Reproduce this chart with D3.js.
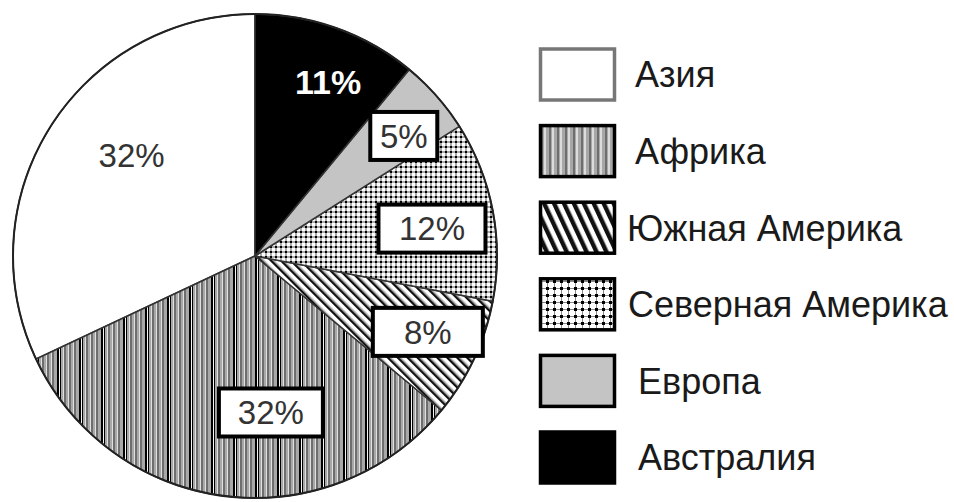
<!DOCTYPE html>
<html>
<head>
<meta charset="utf-8">
<script src="https://cdn.jsdelivr.net/npm/d3@7"></script>
<style>
  html, body { margin: 0; padding: 0; background: #fff; }
  svg { display: block; }
</style>
</head>
<body>
<svg id="chart" width="954" height="502"></svg>
<script>
// Continents, in legend order
const categories = ["Азия", "Африка", "Южная Америка", "Северная Америка", "Европа", "Австралия"];
// Share of each continent, percent
const values = [32, 32, 8, 12, 5, 11];
// Text written on each slice
const valueLabels = ["32%", "32%", "8%", "12%", "5%", "11%"];
// Fill style key for each continent
const fillKeys = ["white", "vstripes", "diag", "grid", "gray", "black"];

// Label placement: fraction of radius, angle nudge (deg), box width (0 = no box), style
const labelLayout = [
  { rf: 0.66, nudge: 7,   boxW: 0,   style: "plain" },
  { rf: 0.65, nudge: -13, boxW: 104, style: "box" },
  { rf: 0.78, nudge: -1.5,boxW: 110, style: "box" },
  { rf: 0.74, nudge: 2,   boxW: 107, style: "box" },
  { rf: 0.79, nudge: 2.5, boxW: 67,  style: "box" },
  { rf: 0.78, nudge: 3,   boxW: 0,   style: "bold" }
];
// Legend text x positions
const legendTextX = [635, 635, 627, 628, 638, 638];

const svg = d3.select("#chart");
const defs = svg.append("defs");

// ---- fill patterns ----
function stripePattern(id, w, bg, bands) {
  const p = defs.append("pattern").attr("id", id).attr("patternUnits", "userSpaceOnUse")
    .attr("width", w).attr("height", 10);
  p.append("rect").attr("width", w).attr("height", 10).attr("fill", bg);
  bands.forEach(([x, bw, c]) => p.append("rect").attr("x", x).attr("width", bw).attr("height", 10).attr("fill", c));
}
// vertical stripes inside the pie: gray ground, light and dark bands, periodic black rules
stripePattern("pat-vstripes", 22, "#a8a8a8", [
  [0, 2, "#000"], [2, 1, "#f4f4f4"], [3, 1, "#000"],
  [6, 1, "#e0e0e0"], [7, 2, "#6e6e6e"],
  [11, 1, "#e0e0e0"], [12, 2, "#6e6e6e"],
  [16, 1, "#e0e0e0"], [17, 2, "#6e6e6e"]
]);
// coarser stripes for the legend swatch
stripePattern("pat-vstripes-leg", 8, "#a8a8a8", [[0, 2, "#dcdcdc"], [5, 2, "#6e6e6e"]]);

function diag(id, period, lw, rot) {
  const p = defs.append("pattern").attr("id", id).attr("patternUnits", "userSpaceOnUse")
    .attr("width", period).attr("height", period).attr("patternTransform", `rotate(${rot})`);
  p.append("rect").attr("width", period).attr("height", period).attr("fill", "#fff");
  p.append("rect").attr("x", 0).attr("width", lw).attr("height", period).attr("fill", "#111");
  p.append("rect").attr("x", lw).attr("width", 1).attr("height", period).attr("fill", "#999");
}
function grid(id, period, dot, lineC) {
  const p = defs.append("pattern").attr("id", id).attr("patternUnits", "userSpaceOnUse")
    .attr("width", period).attr("height", period);
  p.append("rect").attr("width", period).attr("height", period).attr("fill", "#fff");
  p.append("rect").attr("width", period).attr("height", 1).attr("y", dot / 2 - 0.5).attr("fill", lineC);
  p.append("rect").attr("width", 1).attr("height", period).attr("x", dot / 2 - 0.5).attr("fill", lineC);
  p.append("rect").attr("width", dot).attr("height", dot).attr("fill", "#000");
}
diag("pat-diag", 7, 2.5, -45);
diag("pat-diag-leg", 9, 4, -25);
grid("pat-grid", 5, 2, "#555");
grid("pat-grid-leg", 7, 3, "#888");

function fillFor(key, legend) {
  switch (key) {
    case "white": return "#fff";
    case "gray": return "#c4c4c4";
    case "black": return "#000";
    default: return `url(#pat-${key}${legend ? "-leg" : ""})`;
  }
}

// ---- pie ----
const cx = 255, cy = 256, R = 242;
const g = svg.append("g").attr("transform", `translate(${cx},${cy})`);

const pie = d3.pie().sort(null).value(d => d).startAngle(2 * Math.PI).endAngle(0);
const arcs = pie(values);
const arc = d3.arc().innerRadius(0).outerRadius(R);

g.selectAll("path.slice").data(arcs).join("path")
  .attr("class", "slice")
  .attr("d", arc)
  .attr("fill", (d, i) => fillFor(fillKeys[i], false))
  .attr("stroke", "#333")
  .attr("stroke-width", 1.5);

g.append("circle").attr("r", R).attr("fill", "none").attr("stroke", "#222").attr("stroke-width", 2);

// ---- slice labels ----
const fontFam = "'Liberation Sans', Arial, sans-serif";
arcs.forEach((d, i) => {
  const L = labelLayout[i];
  const mid = (d.startAngle + d.endAngle) / 2 + L.nudge * Math.PI / 180;
  const r = R * L.rf;
  const x = Math.sin(mid) * r, y = -Math.cos(mid) * r;
  const lg = g.append("g").attr("transform", `translate(${x},${y})`);
  if (L.style === "box") {
    lg.append("rect")
      .attr("x", -L.boxW / 2).attr("y", -24).attr("width", L.boxW).attr("height", 48)
      .attr("fill", "#fff").attr("stroke", "#000").attr("stroke-width", 4);
  }
  lg.append("text")
    .attr("text-anchor", "middle")
    .attr("dy", "0.36em")
    .attr("font-family", fontFam)
    .attr("font-size", L.style === "bold" ? 34 : 33)
    .attr("font-weight", L.style === "bold" ? "bold" : "normal")
    .attr("fill", L.style === "bold" ? "#fff" : "#333")
    .text(valueLabels[i]);
});

// ---- legend ----
const legY = d3.scaleBand().domain(categories).range([49, 483]).paddingInner(0.334).paddingOuter(0);
const leg = svg.append("g");
categories.forEach((c, i) => {
  const y = legY(c);
  const h = legY.bandwidth();
  leg.append("rect")
    .attr("x", 540.5).attr("y", y).attr("width", 74).attr("height", h)
    .attr("fill", fillFor(fillKeys[i], true))
    .attr("stroke", i === 0 ? "#777" : "#000")
    .attr("stroke-width", 3.5);
  leg.append("text")
    .attr("x", legendTextX[i]).attr("y", y + h / 2)
    .attr("dy", "0.36em")
    .attr("font-family", fontFam)
    .attr("font-size", 36)
    .attr("fill", "#1a1a1a")
    .text(c);
});
</script>
</body>
</html>
